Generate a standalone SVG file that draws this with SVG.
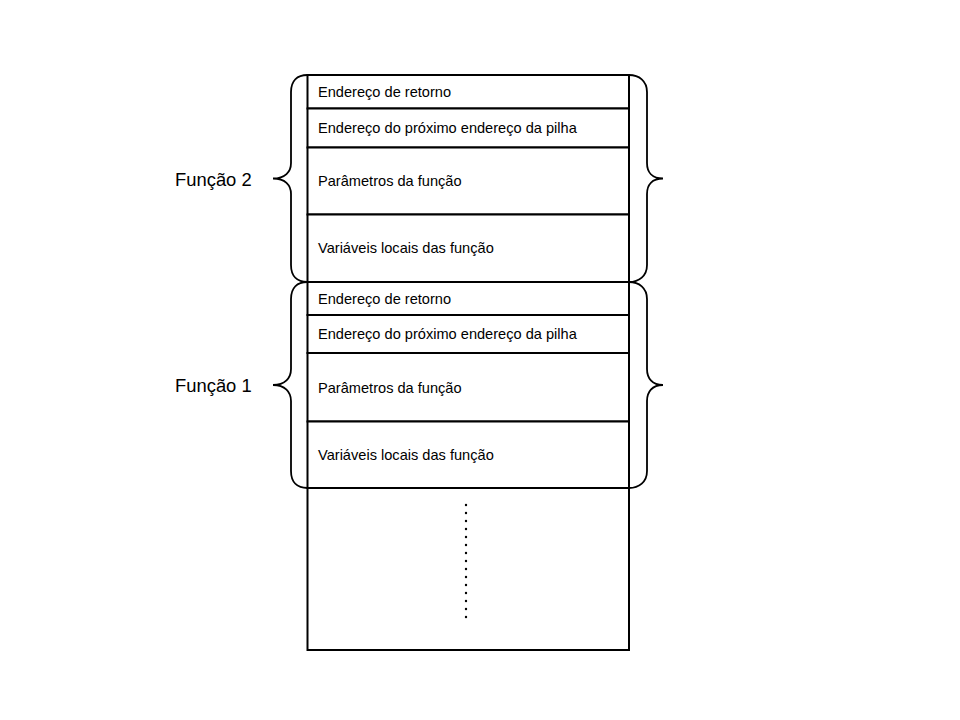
<svg xmlns="http://www.w3.org/2000/svg" width="960" height="720" viewBox="0 0 960 720">
<style>
.cell{fill:#fff;stroke:#000;stroke-width:2}
.t{font-family:"Liberation Sans",Arial,sans-serif;font-size:14.6px;fill:#000}
.lbl{font-family:"Liberation Sans",Arial,sans-serif;font-size:18.4px;fill:#000}
.brace{fill:none;stroke:#000;stroke-width:1.8}
.dot{fill:#000}
</style>
<rect width="960" height="720" fill="#fff"/>
<g id="f2-ret"><rect class="cell" x="307.5" y="75" width="321.5" height="33.5"/><text class="t" x="318" y="97">Endereço de retorno</text></g>
<g id="f2-next"><rect class="cell" x="307.5" y="108.5" width="321.5" height="39"/><text class="t" x="318" y="133.3">Endereço do próximo endereço da pilha</text></g>
<g id="f2-params"><rect class="cell" x="307.5" y="147.5" width="321.5" height="67"/><text class="t" x="318" y="186">Parâmetros da função</text></g>
<g id="f2-vars"><rect class="cell" x="307.5" y="214.5" width="321.5" height="67.5"/><text class="t" x="318" y="253.3">Variáveis locais das função</text></g>
<g id="f1-ret"><rect class="cell" x="307.5" y="282" width="321.5" height="33"/><text class="t" x="318" y="303.5">Endereço de retorno</text></g>
<g id="f1-next"><rect class="cell" x="307.5" y="315" width="321.5" height="38"/><text class="t" x="318" y="339.3">Endereço do próximo endereço da pilha</text></g>
<g id="f1-params"><rect class="cell" x="307.5" y="353" width="321.5" height="68.5"/><text class="t" x="318" y="392.5">Parâmetros da função</text></g>
<g id="f1-vars"><rect class="cell" x="307.5" y="421.5" width="321.5" height="66.5"/><text class="t" x="318" y="460">Variáveis locais das função</text></g>
<g id="rest"><rect class="cell" x="307.5" y="488" width="321.5" height="162"/>
<g class="dot">
<circle cx="466" cy="505" r="1.2"/><circle cx="466" cy="513" r="1.2"/><circle cx="466" cy="521" r="1.2"/><circle cx="466" cy="529" r="1.2"/><circle cx="466" cy="537" r="1.2"/><circle cx="466" cy="545" r="1.2"/><circle cx="466" cy="553" r="1.2"/><circle cx="466" cy="561" r="1.2"/><circle cx="466" cy="569" r="1.2"/><circle cx="466" cy="577" r="1.2"/><circle cx="466" cy="585" r="1.2"/><circle cx="466" cy="593" r="1.2"/><circle cx="466" cy="601" r="1.2"/><circle cx="466" cy="609" r="1.2"/><circle cx="466" cy="617" r="1.2"/>
</g></g>
<g id="label-f2"><text class="lbl" x="175" y="186">Função 2</text></g>
<g id="label-f1"><text class="lbl" x="175" y="392">Função 1</text></g>
<g id="braces">
<path class="brace" d="M307.5 75 C297 75 291 81 291 92 L291 163 C291 172 285 178.5 273 178.5 C285 178.5 291 185 291 194 L291 265 C291 276 297 282 307.5 282"/>
<path class="brace" d="M629 75 C639 75 647 81 647 92 L647 163 C647 172 652 178.5 663 178.5 C652 178.5 647 185 647 194 L647 265 C647 276 639 282 629 282"/>
<path class="brace" d="M307.5 282 C297 282 291 288 291 299 L291 369 C291 378 285 385 273 385 C285 385 291 392 291 401 L291 471 C291 482 297 488 307.5 488"/>
<path class="brace" d="M629 282 C639 282 647 288 647 299 L647 369 C647 378 652 385 663 385 C652 385 647 392 647 401 L647 471 C647 482 639 488 629 488"/>
</g>
</svg>
